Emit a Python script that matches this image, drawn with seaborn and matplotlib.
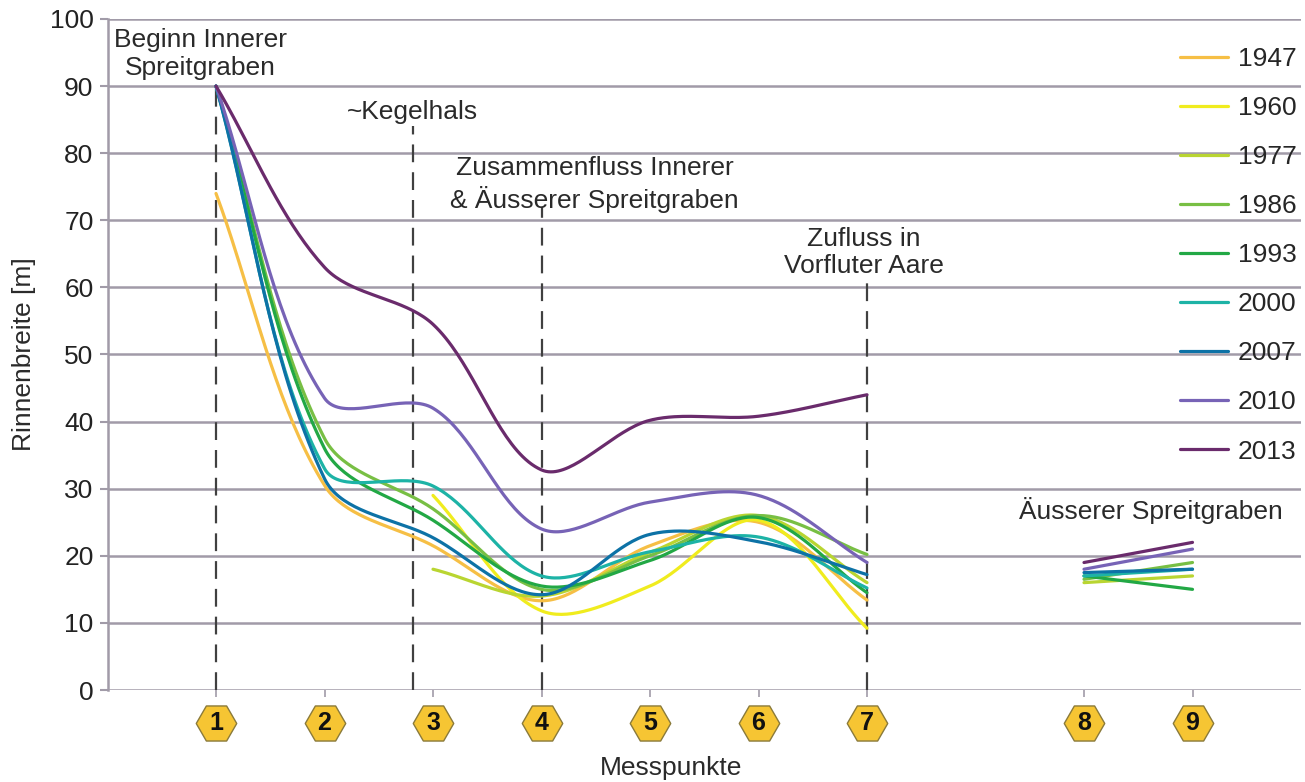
import numpy as np
import matplotlib
matplotlib.use("Agg")
import matplotlib.pyplot as plt
from matplotlib.lines import Line2D
from matplotlib.transforms import blended_transform_factory
import seaborn as sns

# ---------------- data ----------------
messpunkte = [1, 2, 3, 4, 5, 6, 7, 8, 9]
# position of each Messpunkt on the category axis (gap between 7 and 8)
mp_pos = [1, 2, 3, 4, 5, 6, 7, 9, 10]
years = ["1947", "1960", "1977", "1986", "1993", "2000", "2007", "2010", "2013"]
nan = np.nan
w1947 = [74, 30.5, 21.5, 13.3, 21.5, 25.0, 13.4, nan, nan]
w1960 = [nan, nan, 29.0, 11.8, 15.5, 25.3, 9.2, nan, nan]
w1977 = [nan, nan, 18.0, 14.0, 20.5, 26.0, 16.0, 16.0, 17.0]
w1986 = [90, 37.5, 27.0, 15.0, 20.0, 26.0, 20.2, 16.5, 19.0]
w1993 = [90, 36.0, 25.3, 15.5, 19.3, 25.7, 14.5, 17.0, 15.0]
w2000 = [90, 33.0, 30.4, 17.0, 20.6, 22.8, 15.2, 17.0, 18.0]
w2007 = [90, 31.5, 22.7, 14.2, 23.2, 22.1, 17.2, 17.5, 18.0]
w2010 = [90, 43.5, 42.0, 24.0, 28.0, 29.0, 19.0, 18.0, 21.0]
w2013 = [90, 63.0, 54.5, 32.8, 40.2, 40.8, 44.0, 19.0, 22.0]
series = [w1947, w1960, w1977, w1986, w1993, w2000, w2007, w2010, w2013]
colors = ["#f6bf45", "#f0ec1e", "#b9d531", "#78bf44", "#22a845",
          "#1db3a6", "#0d72a6", "#7763b6", "#6a2b6c"]
segments = [(0, 7), (7, 9)]  # inner channel (1-7), outer channel (8-9)

ref_x = [1, 2.82, 4, 7]
ref_top = [90, 84, 72, 61]

yticks = [0, 10, 20, 30, 40, 50, 60, 70, 80, 90, 100]

# ---------------- style ----------------
sns.set_theme(style="white")
plt.rcParams["font.family"] = ["Liberation Sans", "DejaVu Sans"]
FS = 19

fig = plt.figure(figsize=(13.05, 7.82), dpi=100)
ax = fig.add_axes([107.5 / 1305, 1 - 690 / 782, (1301 - 107.5) / 1305, (690 - 19) / 782])
ax.set_xlim(0, 11)
ax.set_ylim(0, 100)

grid_c = "#a19ba8"
for s in ["top", "right", "bottom"]:
    ax.spines[s].set_visible(False)
ax.spines["left"].set_color(grid_c)
ax.spines["left"].set_linewidth(1.8)
ax.set_yticks(yticks)
ax.yaxis.grid(True, color=grid_c, lw=1.8)
ax.xaxis.grid(False)
ax.tick_params(axis="y", length=6, width=1.5, color=grid_c, labelsize=FS, pad=4,
               labelcolor="#222222", left=True)
ax.set_xticks(mp_pos)
ax.set_xticklabels([])
ax.tick_params(axis="x", length=5, width=1.2, color=grid_c, bottom=True)
ax.set_axisbelow(True)


def excel_smooth(xs, ys, n=40):
    pts = ax.transData.transform(np.column_stack([xs, ys]))
    m = len(pts)
    out = [pts[0]]
    L = np.linalg.norm(np.diff(pts, axis=0), axis=1)
    cp_in, cp_out = [None] * m, [None] * m
    for i in range(m):
        if i == 0:
            cp_out[i] = pts[0] + (pts[1] - pts[0]) / 3.0
        elif i == m - 1:
            cp_in[i] = pts[i] - (pts[i] - pts[i - 1]) / 3.0
        else:
            d = pts[i + 1] - pts[i - 1]
            tot = L[i - 1] + L[i]
            cp_in[i] = pts[i] - d * (1 / 3.0) * L[i - 1] / tot
            cp_out[i] = pts[i] + d * (1 / 3.0) * L[i] / tot
    t = np.linspace(0, 1, n)[1:, None]
    for i in range(m - 1):
        p0, p1, p2, p3 = pts[i], cp_out[i], cp_in[i + 1], pts[i + 1]
        b = ((1 - t) ** 3) * p0 + 3 * ((1 - t) ** 2) * t * p1 + 3 * (1 - t) * t ** 2 * p2 + t ** 3 * p3
        out.extend(list(b))
    out = np.array(out)
    dat = ax.transData.inverted().transform(out)
    return dat[:, 0], dat[:, 1]


for k, (yr, vals, c) in enumerate(zip(years, series, colors)):
    for a, b in segments:
        xs = [mp_pos[i] for i in range(a, b) if not np.isnan(vals[i])]
        ys = [vals[i] for i in range(a, b) if not np.isnan(vals[i])]
        if len(xs) < 2:
            continue
        sx, sy = excel_smooth(xs, ys)
        sns.lineplot(x=sx, y=sy, sort=False, estimator=None, color=c, lw=2.3,
                     ax=ax, zorder=3 + k, legend=False)

# reference dashed lines
for rx, rt in zip(ref_x, ref_top):
    ax.plot([rx, rx], [0, rt], ls=(0, (8, 4.5)), color="#404040", lw=1.6, zorder=2)

txt_c = "#2a2a2a"
ax.text(0.853, 94.8, "Beginn Innerer\nSpreitgraben", ha="center", va="center",
        fontsize=FS, color=txt_c, linespacing=1.2)
ax.text(2.81, 86.2, "~Kegelhals", ha="center", va="center", fontsize=FS, color=txt_c)
ax.text(4.49, 75.3, "Zusammenfluss Innerer\n& Äusserer Spreitgraben", ha="center",
        va="center", fontsize=FS, color=txt_c, linespacing=1.27)
ax.text(6.97, 65.2, "Zufluss in\nVorfluter Aare", ha="center", va="center",
        fontsize=FS, color=txt_c, linespacing=1.17)
ax.text(9.62, 26.7, "Äusserer Spreitgraben", ha="center", va="center",
        fontsize=FS, color=txt_c)

# hexagon markers for Messpunkte
trans = blended_transform_factory(ax.transData, ax.transAxes)
ax.scatter(mp_pos, [-0.049] * len(mp_pos), marker="H", s=850,
           facecolor="#f6c533", edgecolor="#8a7a3a", linewidth=1.0,
           transform=trans, clip_on=False, zorder=5)
for mp, p in zip(messpunkte, mp_pos):
    ax.text(p, -0.049, str(mp), transform=trans, ha="center", va="center",
            fontsize=18, fontweight="bold", color="#111111", zorder=6)

ax.set_ylabel("Rinnenbreite [m]", fontsize=FS, color=txt_c, labelpad=10)
fig.text(671 / 1305, 1 - 768 / 782, "Messpunkte", ha="center", va="center",
         fontsize=FS, color=txt_c)

handles = [Line2D([0], [0], color=c, lw=2.3) for c in colors]
fig.legend(handles, years, loc="upper left", bbox_to_anchor=(1180 / 1305, 1 - 47 / 782),
           frameon=False, fontsize=FS, handlelength=1.8, handletextpad=0.4,
           labelspacing=0.95, borderaxespad=0, borderpad=0)

fig.savefig("out.png", dpi=100, facecolor="white")
